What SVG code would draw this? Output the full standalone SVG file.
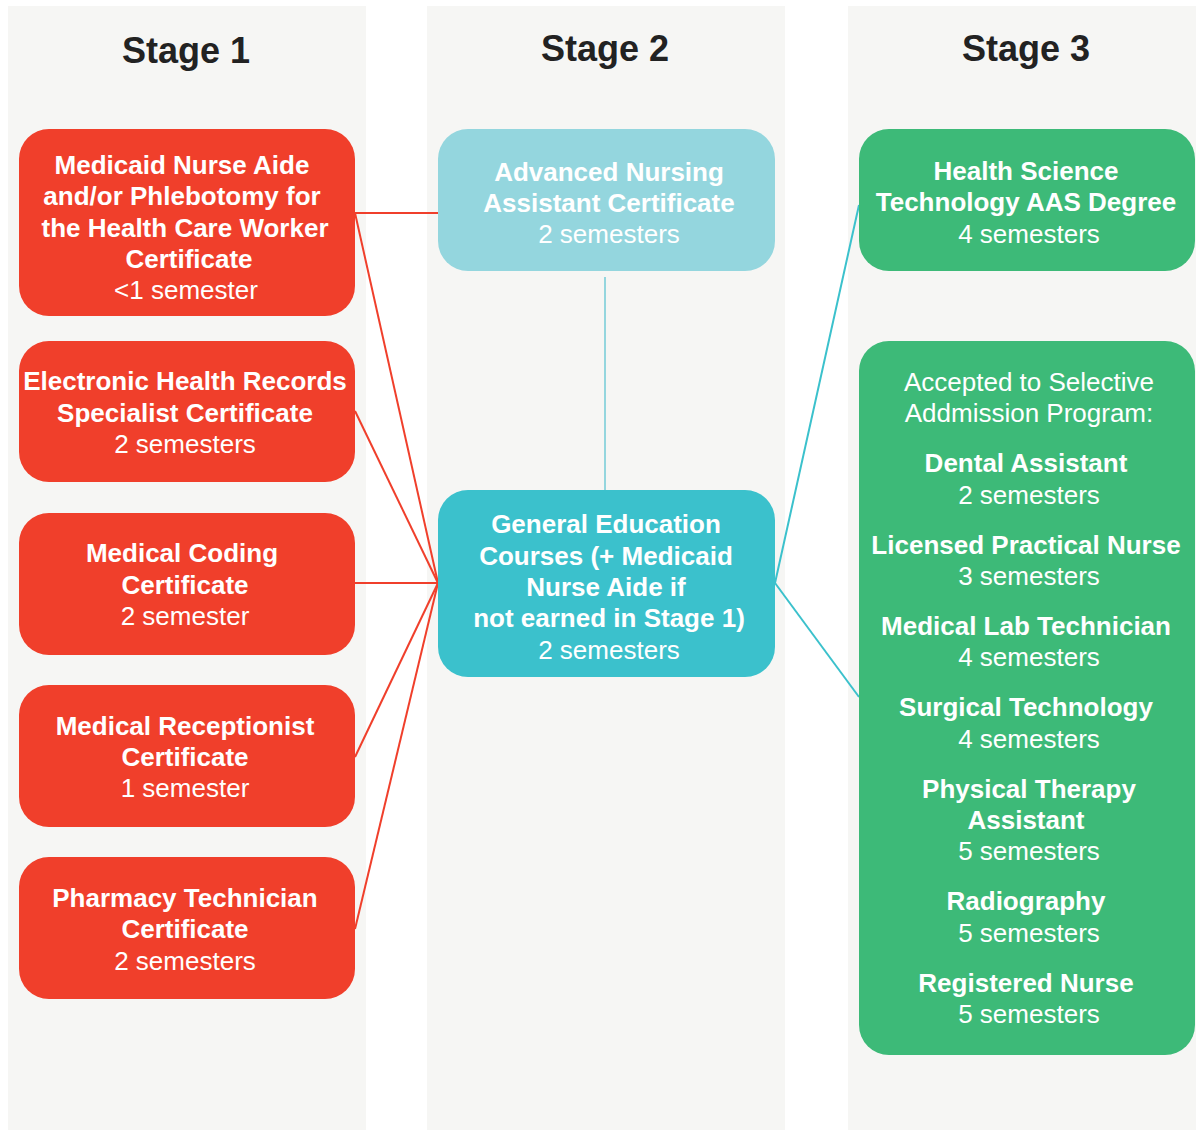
<svg xmlns="http://www.w3.org/2000/svg" width="1196" height="1130" viewBox="0 0 1196 1130">
<style>
text{font-family:"Liberation Sans",Arial,sans-serif;font-size:26px;text-anchor:middle;fill:#fff}
.b{font-weight:bold}
.h{font-weight:bold;font-size:36px;fill:#222}
.col{fill:#f6f6f4}
.red{fill:#f03f2b}
.tl{fill:#94d6de}
.tk{fill:#3bc1cc}
.gr{fill:#3dba78}
.lr{stroke:#f03f2b;stroke-width:2;fill:none}
.lt{stroke:#3bc1cc;stroke-width:2;fill:none}
</style>
<rect width="1196" height="1130" fill="#fff"/>
<g id="columns">
<rect class="col" x="8" y="6" width="358" height="1124"/>
<rect class="col" x="427" y="6" width="358" height="1124"/>
<rect class="col" x="848" y="6" width="348" height="1124"/>
<text class="h" x="186" y="63">Stage 1</text>
<text class="h" x="605" y="61">Stage 2</text>
<text class="h" x="1026" y="61">Stage 3</text>
</g>
<g id="connectors">
<line class="lr" x1="355" y1="213" x2="438" y2="213"/>
<line class="lr" x1="355" y1="213" x2="438" y2="583"/>
<line class="lr" x1="355" y1="411" x2="438" y2="583"/>
<line class="lr" x1="355" y1="583" x2="438" y2="583"/>
<line class="lr" x1="355" y1="757" x2="438" y2="583"/>
<line class="lr" x1="355" y1="929" x2="438" y2="583"/>
<line x1="605" y1="277" x2="605" y2="490" stroke="#94d6de" stroke-width="2"/>
<line class="lt" x1="775" y1="583" x2="859" y2="205"/>
<line class="lt" x1="775" y1="583" x2="859" y2="697"/>
</g>
<g id="s1-nurse-aide">
<rect class="red" x="19" y="129" width="336" height="187" rx="30"/>
<text class="b" x="182" y="174">Medicaid Nurse Aide</text>
<text class="b" x="182" y="205">and/or Phlebotomy for</text>
<text class="b" x="185" y="237">the Health Care Worker</text>
<text class="b" x="189" y="268">Certificate</text>
<text x="186" y="299">&lt;1 semester</text>
</g>
<g id="s1-ehr">
<rect class="red" x="19" y="341" width="336" height="141" rx="30"/>
<text class="b" x="185" y="390">Electronic Health Records</text>
<text class="b" x="185" y="422">Specialist Certificate</text>
<text x="185" y="453">2 semesters</text>
</g>
<g id="s1-coding">
<rect class="red" x="19" y="513" width="336" height="142" rx="30"/>
<text class="b" x="182" y="562">Medical Coding</text>
<text class="b" x="185" y="594">Certificate</text>
<text x="185" y="625">2 semester</text>
</g>
<g id="s1-receptionist">
<rect class="red" x="19" y="685" width="336" height="142" rx="30"/>
<text class="b" x="185" y="735">Medical Receptionist</text>
<text class="b" x="185" y="766">Certificate</text>
<text x="185" y="797">1 semester</text>
</g>
<g id="s1-pharmacy">
<rect class="red" x="19" y="857" width="336" height="142" rx="30"/>
<text class="b" x="185" y="907">Pharmacy Technician</text>
<text class="b" x="185" y="938">Certificate</text>
<text x="185" y="970">2 semesters</text>
</g>
<g id="s2-advanced-nursing">
<rect class="tl" x="438" y="129" width="337" height="142" rx="30"/>
<text class="b" x="609" y="181">Advanced Nursing</text>
<text class="b" x="609" y="212">Assistant Certificate</text>
<text x="609" y="243">2 semesters</text>
</g>
<g id="s2-general-education">
<rect class="tk" x="438" y="490" width="337" height="187" rx="30"/>
<text class="b" x="606" y="533">General Education</text>
<text class="b" x="606" y="565">Courses (+ Medicaid</text>
<text class="b" x="606" y="596">Nurse Aide if</text>
<text class="b" x="609" y="627">not earned in Stage 1)</text>
<text x="609" y="659">2 semesters</text>
</g>
<g id="s3-health-science">
<rect class="gr" x="859" y="129" width="336" height="142" rx="30"/>
<text class="b" x="1026" y="180">Health Science</text>
<text class="b" x="1026" y="211">Technology AAS Degree</text>
<text x="1029" y="243">4 semesters</text>
</g>
<g id="s3-selective-admission">
<rect class="gr" x="859" y="341" width="336" height="714" rx="30"/>
<text x="1029" y="391">Accepted to Selective</text>
<text x="1029" y="422">Addmission Program:</text>
<text class="b" x="1026" y="472">Dental Assistant</text>
<text x="1029" y="504">2 semesters</text>
<text class="b" x="1026" y="554">Licensed Practical Nurse</text>
<text x="1029" y="585">3 semesters</text>
<text class="b" x="1026" y="635">Medical Lab Technician</text>
<text x="1029" y="666">4 semesters</text>
<text class="b" x="1026" y="716">Surgical Technology</text>
<text x="1029" y="748">4 semesters</text>
<text class="b" x="1029" y="798">Physical Therapy</text>
<text class="b" x="1026" y="829">Assistant</text>
<text x="1029" y="860">5 semesters</text>
<text class="b" x="1026" y="910">Radiography</text>
<text x="1029" y="942">5 semesters</text>
<text class="b" x="1026" y="992">Registered Nurse</text>
<text x="1029" y="1023">5 semesters</text>
</g>
</svg>
